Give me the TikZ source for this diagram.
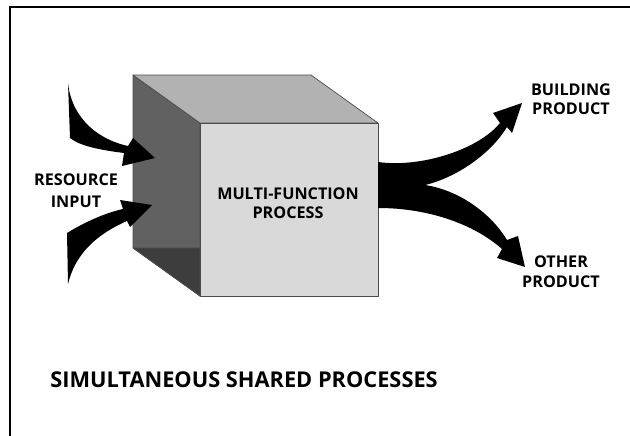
\documentclass[tikz,border=0pt]{standalone}
\usepackage{fontspec}
\setmainfont{Open Sans}
\begin{document}
\begin{tikzpicture}[x=0.25mm, y=-0.25mm, font=\bfseries\fontsize{11.5}{13.5}\selectfont,
		face/.style={draw=black!70, line width=0.5pt, line join=round},
		lbl/.style={align=center, inner sep=0pt}]
		\useasboundingbox (0,0) rectangle (630,436);
		\draw[line width=0.8pt] (10,436) -- (10,7) -- (630,7);

		% box corners
		\coordinate (bl) at (133,75);
		\coordinate (br) at (311,75);
		\coordinate (fl) at (200,123);
		\coordinate (fr) at (378,123);
		\coordinate (fbl) at (200,296);
		\coordinate (fbr) at (378,296);
		\coordinate (bbl) at (133,248);

		\draw[face, fill=black!62] (bl) -- (fl) -- (fbl) -- (bbl) -- cycle;
		\draw[face, fill=black!76] (bbl) -- (fl |- bbl) -- (fbl) -- cycle;
		\draw[face, fill=black!30] (bl) -- (br) -- (fr) -- (fl) -- cycle;
		\draw[face, fill=black!15] (fl) rectangle (fbr);

		\node[lbl] (proc) at (288,203) {MULTI-FUNCTION\\PROCESS};
		\node[lbl] (input) at (76,191) {RESOURCE\\[2pt]INPUT};
		\node[lbl] (building) at (571,99) {BUILDING\\PRODUCT};
		\node[lbl] (other) at (561,272) {OTHER\\[1pt]PRODUCT};
		\node[lbl, anchor=west, font=\bfseries\fontsize{15.5}{18}\selectfont] (title) at (50,380) {SIMULTANEOUS SHARED PROCESSES};

		% input arrows
		\fill (68,83) .. controls (72,120) and (100,140) .. (128,146) -- (133,138) -- (155,158) -- (122,166) -- (124,153)
			.. controls (100,150) and (80,146) .. (70,138) -- cycle;
		\fill (67,233) .. controls (85,222) and (105,213) .. (123,209) -- (120,200) -- (152,205) -- (130,227) -- (127,221)
			.. controls (95,235) and (75,255) .. (68,284) -- cycle;

		% output arrows
		\fill (378,162) .. controls (420,168) and (478,150) .. (500,123) -- (493,113) -- (522,103) -- (512,133) -- (507,127)
			.. controls (490,155) and (455,178) .. (425,185)
			.. controls (458,190) and (490,212) .. (507,240) -- (518,236) -- (525,267) -- (497,258) -- (502,249)
			.. controls (475,225) and (430,208) .. (378,208) -- cycle;
	\end{tikzpicture}
\end{document}
